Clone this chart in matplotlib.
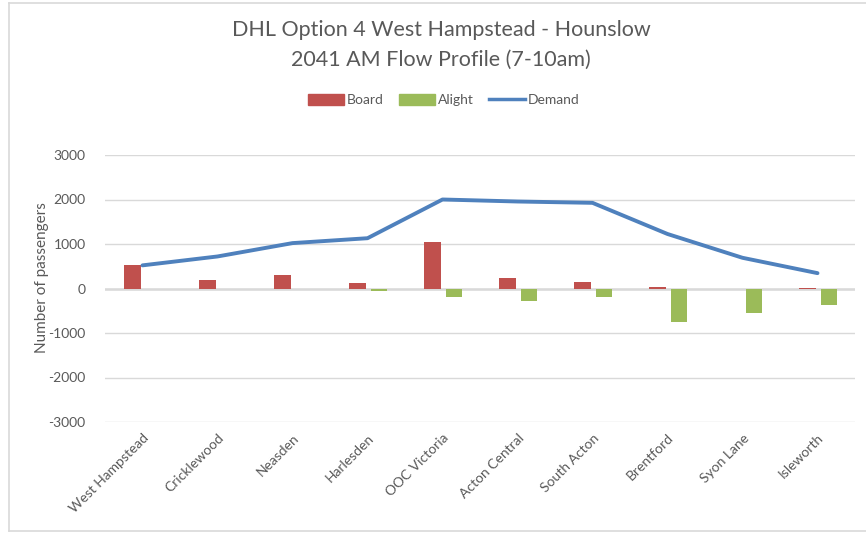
import matplotlib
matplotlib.use("Agg")
import matplotlib.pyplot as plt
from matplotlib.lines import Line2D
from matplotlib.patches import Patch
import numpy as np

plt.rcParams['font.family'] = ['Lato', 'DejaVu Sans']

stations = ["West Hampstead", "Cricklewood", "Neasden", "Harlesden", "OOC Victoria",
            "Acton Central", "South Acton", "Brentford", "Syon Lane", "Isleworth"]
board = [520, 190, 300, 130, 1050, 235, 135, 25, 0, 15]
alight = [0, 0, 0, -50, -190, -270, -180, -760, -560, -375]
demand = [520, 720, 1020, 1130, 2000, 1955, 1925, 1225, 690, 345]
yticks = [3000, 2000, 1000, 0, -1000, -2000, -3000]

RED = "#C0504D"
GREEN = "#9BBB59"
BLUE = "#4F81BD"
TXT = "#595959"
GRID = "#D9D9D9"

W, H = 866, 533
fig = plt.figure(figsize=(W / 100, H / 100), dpi=100)
ax = fig.add_axes([105 / W, 1 - 422 / H, 750 / W, (422 - 155) / H])

x = np.arange(len(stations))
bw = 0.22
ax.bar(x - 0.135, board, width=bw, color=RED, zorder=3)
ax.bar(x + 0.15, alight, width=bw, color=GREEN, zorder=3)
ax.plot(x, demand, color=BLUE, lw=2.8, zorder=4, solid_capstyle='round')

ax.set_xlim(-0.5, len(stations) - 0.5)
ax.set_ylim(-3000, 3000)
ax.set_yticks(yticks)
ax.set_yticklabels([str(v) for v in yticks])
ax.grid(axis='y', color=GRID, lw=1, zorder=0)
ax.axhline(0, color=GRID, lw=1.8, zorder=1)
for s in ax.spines.values():
    s.set_visible(False)
ax.tick_params(axis='y', length=0, pad=14, labelsize=10, labelcolor=TXT)
ax.tick_params(axis='x', length=0, pad=7, labelsize=10, labelcolor=TXT)
ax.set_xticks(x)
ax.set_xticklabels(stations, rotation=45, ha='right', va='top', rotation_mode='anchor')
ax.set_ylabel("Number of passengers", fontsize=11, color=TXT)
ax.yaxis.set_label_coords(-0.075, 0.54)

fig.text(441 / W, 1 - 30 / H, "DHL Option 4 West Hampstead - Hounslow",
         ha='center', va='center', fontsize=15.5, color=TXT)
fig.text(441 / W, 1 - 60 / H, "2041 AM Flow Profile (7-10am)",
         ha='center', va='center', fontsize=15.5, color=TXT)

handles = [Patch(color=RED, label="Board"), Patch(color=GREEN, label="Alight"),
           Line2D([0], [0], color=BLUE, lw=2.5, label="Demand")]
fig.legend(handles=handles, loc='center', bbox_to_anchor=(444 / W, 1 - 100 / H), ncol=3,
           frameon=False, fontsize=10, labelcolor=TXT, handlelength=2.6, handleheight=0.8,
           handletextpad=0.2, columnspacing=1.1)

# chart frame
border = dict(color="#D9D9D9", lw=1.2, transform=fig.transFigure)
fig.add_artist(Line2D([8.5 / W, 8.5 / W], [1 - 2.5 / H, 1 - 531 / H], **border))
fig.add_artist(Line2D([8.5 / W, 1], [1 - 2.5 / H, 1 - 2.5 / H], **border))
fig.add_artist(Line2D([8.5 / W, 1], [1 - 531 / H, 1 - 531 / H], **border))

fig.savefig("out.png", dpi=100)
